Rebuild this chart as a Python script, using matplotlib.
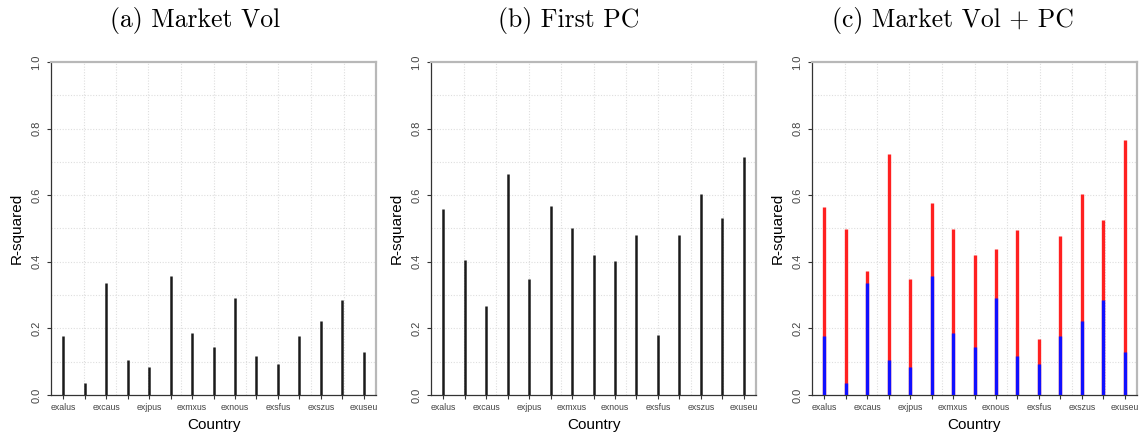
import numpy as np
import matplotlib
matplotlib.use("Agg")
import matplotlib.pyplot as plt

# Exchange-rate series (alphabetical); only every other name is printed on the axis
countries = ["exalus", "exbzus", "excaus", "exhkus", "exjpus", "exkous", "exmxus",
             "exnzus", "exnous", "exsdus", "exsfus", "exsius", "exszus", "exukus", "exuseu"]

# R-squared from regressing each series on market volatility
r2_market_vol = [0.178, 0.035, 0.337, 0.105, 0.084, 0.358, 0.186, 0.144,
                 0.290, 0.118, 0.093, 0.177, 0.223, 0.284, 0.128]

# R-squared from regressing each series on the first principal component
r2_first_pc = [0.560, 0.404, 0.266, 0.665, 0.349, 0.569, 0.501, 0.419,
               0.401, 0.479, 0.179, 0.479, 0.603, 0.531, 0.715]

# R-squared with both regressors
r2_vol_pc = [0.564, 0.499, 0.373, 0.724, 0.349, 0.578, 0.497, 0.419,
             0.437, 0.494, 0.167, 0.477, 0.603, 0.526, 0.767]

titles = ["(a) Market Vol", "(b) First PC", "(c) Market Vol + PC"]

W, H = 1141, 436
fig = plt.figure(figsize=(W / 100, H / 100), dpi=100)
plt.rcParams["font.family"] = ["Liberation Sans", "DejaVu Sans"]

x = np.arange(1, len(countries) + 1)
xlo, xhi = 1 - 0.04 * 14, len(countries) + 0.04 * 14

panel_left = [51, 431, 812]
title_cx = [195, 569, 953]
ax_w, ax_top, ax_bot = 325, 62, 395


def style_axis(ax):
    ax.set_xlim(xlo, xhi)
    ax.set_ylim(0, 1)
    # dotted reference grid (10 cells each way)
    for gx in np.linspace(xlo, xhi, 11)[1:-1]:
        ax.axvline(gx, color="#dedede", lw=0.8, ls=(0, (1, 1.5)), zorder=0)
    for gy in np.linspace(0, 1, 11)[1:-1]:
        ax.axhline(gy, color="#dedede", lw=0.8, ls=(0, (1, 1.5)), zorder=0)
    for side in ("top", "right"):
        ax.spines[side].set_color("#b8b8b8")
        ax.spines[side].set_linewidth(1.6)
    for side in ("left", "bottom"):
        ax.spines[side].set_color("#333333")
        ax.spines[side].set_linewidth(0.9)
    ax.set_xticks(x)
    ax.set_xticklabels([c if i % 2 == 0 else "" for i, c in enumerate(countries)],
                       fontsize=6.3, color="#444444")
    ax.set_yticks(np.arange(0, 1.01, 0.2))
    ax.set_yticklabels([f"{v:.1f}" for v in np.arange(0, 1.01, 0.2)],
                       rotation=90, va="center", fontsize=8, color="#444444")
    ax.tick_params(axis="x", length=3, width=0.8, color="#333333", pad=3)
    ax.tick_params(axis="y", length=3, width=0.8, color="#333333", pad=4)
    ax.set_xlabel("Country", fontsize=11, va="center")
    ax.set_ylabel("R-squared", fontsize=11, va="center")
    ax.xaxis.set_label_coords(0.5, -(425 - ax_bot) / (ax_bot - ax_top))
    ax.yaxis.set_label_coords((17 - 51) / ax_w, 0.5)


axes = []
for i in range(3):
    ax = fig.add_axes([panel_left[i] / W, (H - ax_bot) / H, ax_w / W, (ax_bot - ax_top) / H])
    style_axis(ax)
    fig.text(title_cx[i] / W, 1 - 20 / H, titles[i], family="cmr10", fontsize=18.5,
             ha="center", va="center")
    axes.append(ax)

axes[0].vlines(x, 0, r2_market_vol, color="#1a1a1a", lw=1.8, zorder=3)
axes[1].vlines(x, 0, r2_first_pc, color="#1a1a1a", lw=1.8, zorder=3)
axes[2].vlines(x, 0, r2_vol_pc, color="#ff2020", lw=2.4, zorder=3)
axes[2].vlines(x, 0, r2_market_vol, color="#1010ff", lw=2.4, zorder=4)

fig.savefig("out.png", dpi=100)
